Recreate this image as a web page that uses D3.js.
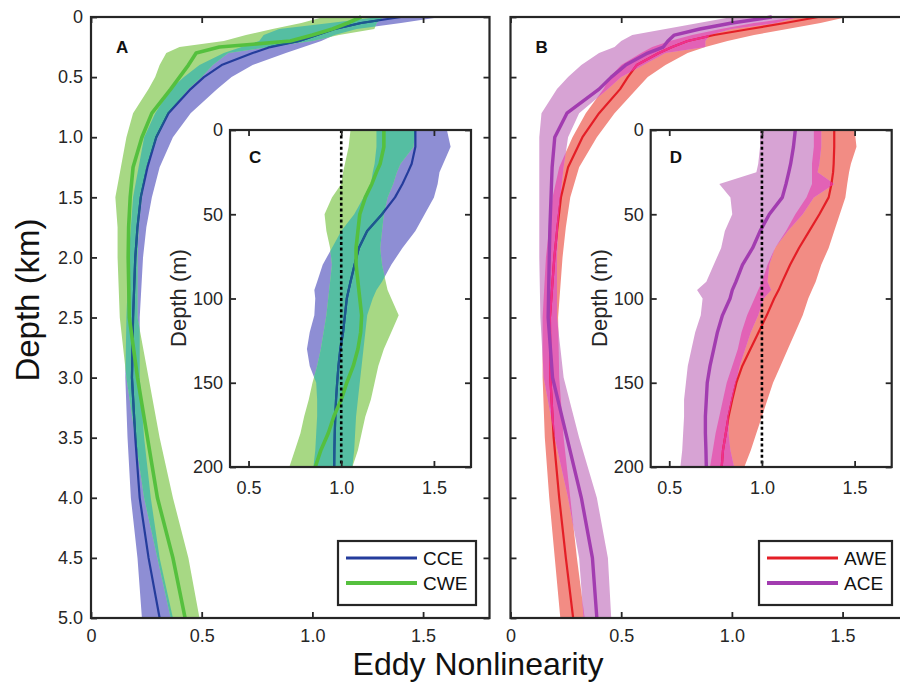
<!DOCTYPE html>
<html>
<head>
<meta charset="utf-8">
<script src="https://cdn.jsdelivr.net/npm/d3@7"></script>
<style>
  body { margin: 0; background: #fff; }
  text { font-family: "Liberation Sans", Arial, Helvetica, sans-serif; }
</style>
</head>
<body>
<div id="chart"></div>
<script>
// ---- data: full-depth profiles (km) ----
const depthKm = [0, 0.05, 0.1, 0.15, 0.2, 0.25, 0.3, 0.4, 0.5, 0.6, 0.8, 1.0, 1.25, 1.5, 1.75, 2.0, 2.5, 3.0, 3.5, 4.0, 4.5, 5.0];

const cceMean = [1.40, 1.22, 1.10, 1.02, 0.94, 0.81, 0.73, 0.59, 0.51, 0.45, 0.35, 0.295, 0.255, 0.225, 0.21, 0.20, 0.19, 0.185, 0.20, 0.22, 0.26, 0.31];
const cceLo   = [1.30, 1.08, 0.85, 0.78, 0.76, 0.68, 0.60, 0.49, 0.42, 0.36, 0.29, 0.24, 0.215, 0.19, 0.18, 0.17, 0.16, 0.155, 0.165, 0.18, 0.21, 0.23];
const cceHi   = [1.58, 1.40, 1.20, 1.10, 1.04, 0.96, 0.88, 0.73, 0.635, 0.57, 0.45, 0.37, 0.31, 0.275, 0.25, 0.235, 0.22, 0.22, 0.24, 0.27, 0.31, 0.37];

const cweMean = [1.22, 1.16, 1.09, 1.00, 0.90, 0.58, 0.475, 0.44, 0.40, 0.36, 0.275, 0.23, 0.19, 0.177, 0.17, 0.168, 0.173, 0.21, 0.255, 0.30, 0.37, 0.425];
const cweLo   = [1.05, 0.95, 0.82, 0.70, 0.60, 0.40, 0.34, 0.31, 0.29, 0.26, 0.19, 0.16, 0.135, 0.11, 0.12, 0.12, 0.13, 0.16, 0.20, 0.24, 0.30, 0.36];
const cweHi   = [1.32, 1.29, 1.28, 1.12, 1.00, 0.80, 0.62, 0.55, 0.50, 0.44, 0.35, 0.30, 0.25, 0.23, 0.215, 0.21, 0.21, 0.26, 0.31, 0.37, 0.44, 0.49];

const aweMean = [1.39, 1.24, 1.08, 0.92, 0.80, 0.73, 0.67, 0.57, 0.53, 0.495, 0.40, 0.325, 0.26, 0.228, 0.212, 0.198, 0.178, 0.18, 0.195, 0.22, 0.25, 0.283];
const aweLo   = [1.30, 1.10, 0.95, 0.82, 0.72, 0.64, 0.59, 0.50, 0.45, 0.42, 0.34, 0.28, 0.22, 0.19, 0.175, 0.16, 0.145, 0.145, 0.155, 0.175, 0.20, 0.225];
const aweHi   = [1.52, 1.40, 1.25, 1.10, 0.98, 0.88, 0.80, 0.70, 0.62, 0.57, 0.47, 0.39, 0.31, 0.27, 0.25, 0.235, 0.215, 0.22, 0.24, 0.27, 0.30, 0.335];

const aceMean = [1.18, 1.00, 0.855, 0.74, 0.711, 0.69, 0.62, 0.52, 0.455, 0.40, 0.255, 0.20, 0.188, 0.183, 0.178, 0.175, 0.17, 0.19, 0.255, 0.32, 0.37, 0.39];
const aceLo   = [1.00, 0.85, 0.70, 0.55, 0.50, 0.47, 0.40, 0.32, 0.26, 0.21, 0.14, 0.13, 0.13, 0.13, 0.13, 0.13, 0.135, 0.15, 0.20, 0.26, 0.31, 0.33];
const aceHi   = [1.30, 1.20, 1.00, 0.90, 0.88, 0.88, 0.70, 0.60, 0.50, 0.44, 0.31, 0.26, 0.24, 0.225, 0.215, 0.21, 0.21, 0.24, 0.31, 0.39, 0.44, 0.455];

// ---- data: upper 200 m (insets C and D) ----
const depthM = [0, 10, 20, 25, 32, 40, 50, 60, 70, 80, 90, 95, 100, 110, 120, 130, 140, 150, 160, 170, 180, 190, 200];

const cceInMean = [1.40, 1.40, 1.38, 1.36, 1.33, 1.29, 1.22, 1.14, 1.095, 1.072, 1.05, 1.04, 1.03, 1.02, 1.01, 0.995, 0.985, 0.978, 0.972, 0.968, 0.965, 0.963, 0.962];
const cceInLo   = [1.19, 1.19, 1.18, 1.17, 1.16, 1.12, 1.07, 1.00, 0.95, 0.90, 0.87, 0.855, 0.86, 0.855, 0.83, 0.815, 0.83, 0.865, 0.87, 0.87, 0.865, 0.86, 0.85];
const cceInHi   = [1.57, 1.59, 1.55, 1.53, 1.52, 1.50, 1.45, 1.40, 1.33, 1.27, 1.22, 1.19, 1.17, 1.14, 1.13, 1.12, 1.11, 1.10, 1.09, 1.08, 1.075, 1.07, 1.06];

const cweInMean = [1.23, 1.23, 1.21, 1.19, 1.165, 1.13, 1.10, 1.09, 1.08, 1.08, 1.09, 1.095, 1.10, 1.11, 1.105, 1.09, 1.065, 1.03, 1.00, 0.96, 0.93, 0.89, 0.86];
const cweInLo   = [1.05, 1.04, 1.02, 1.01, 1.00, 0.95, 0.91, 0.92, 0.94, 0.95, 0.94, 0.935, 0.93, 0.92, 0.905, 0.89, 0.87, 0.845, 0.825, 0.80, 0.78, 0.75, 0.72];
const cweInHi   = [1.40, 1.39, 1.32, 1.30, 1.28, 1.25, 1.23, 1.22, 1.21, 1.22, 1.24, 1.25, 1.27, 1.31, 1.27, 1.23, 1.20, 1.18, 1.16, 1.13, 1.11, 1.09, 1.06];

const aweInMean = [1.39, 1.39, 1.387, 1.384, 1.375, 1.36, 1.31, 1.255, 1.20, 1.152, 1.11, 1.09, 1.066, 1.026, 0.982, 0.938, 0.894, 0.862, 0.84, 0.82, 0.805, 0.79, 0.783];
const aweInLo   = [1.28, 1.28, 1.27, 1.27, 1.27, 1.24, 1.18, 1.13, 1.07, 1.03, 1.00, 0.98, 0.96, 0.92, 0.89, 0.87, 0.84, 0.81, 0.79, 0.77, 0.75, 0.735, 0.72];
const aweInHi   = [1.50, 1.51, 1.48, 1.47, 1.46, 1.45, 1.42, 1.39, 1.36, 1.32, 1.29, 1.27, 1.25, 1.22, 1.18, 1.14, 1.10, 1.06, 1.03, 1.00, 0.97, 0.94, 0.905];

const aceInMean = [1.18, 1.17, 1.155, 1.145, 1.13, 1.11, 1.04, 0.99, 0.95, 0.895, 0.86, 0.84, 0.828, 0.787, 0.76, 0.74, 0.72, 0.705, 0.70, 0.695, 0.695, 0.698, 0.70];
const aceInLo   = [0.99, 0.99, 0.98, 0.97, 0.77, 0.83, 0.84, 0.80, 0.78, 0.74, 0.70, 0.65, 0.68, 0.67, 0.64, 0.62, 0.60, 0.59, 0.58, 0.58, 0.575, 0.57, 0.56];
const aceInHi   = [1.32, 1.32, 1.31, 1.30, 1.39, 1.28, 1.22, 1.14, 1.07, 1.04, 1.03, 1.05, 1.01, 0.98, 0.94, 0.91, 0.88, 0.86, 0.84, 0.82, 0.82, 0.83, 0.85];

// ---- ticks / labels ----
const mainXTicks = [0, 0.5, 1.0, 1.5];
const mainYTicks = [0, 0.5, 1.0, 1.5, 2.0, 2.5, 3.0, 3.5, 4.0, 4.5, 5.0];
const insetXTicks = [0.5, 1.0, 1.5];
const insetYTicks = [0, 50, 100, 150, 200];
const legendA = ["CCE", "CWE"];
const legendB = ["AWE", "ACE"];

const ink = "#262626";
const palA = { band1: "#8e8ed4", band2: "#a7d884", overlap: "#55bea2",
               line1: "#243c9c", line1over: "#1d5a8e", line2: "#55c03e", w1: 2.2, w2: 3.6 };
const palB = { band1: "#f28c84", band2: "#d7a3d4", overlap: "#e262b6",
               line1: "#e41e26", line1over: "#ee2f8e", line2: "#a23cb0", w1: 2.2, w2: 3.4 };

const svg = d3.select("#chart").append("svg")
  .attr("width", 900)
  .attr("height", 686);

function rows(depth, mean, lo, hi) {
  return depth.map((d, i) => ({ d: d, m: mean[i], lo: lo[i], hi: hi[i] }));
}

let clipId = 0;

// two shaded bands + mean lines; overlap of the bands gets its own colour
function drawProfiles(x, y, s1, s2, pal) {
  const id = "ov" + (clipId++);
  const area = d3.area().y(d => y(d.d)).x0(d => x(d.lo)).x1(d => x(d.hi));
  const line = d3.line().y(d => y(d.d)).x(d => x(d.m));
  const g = svg.append("g");
  g.append("clipPath").attr("id", id).append("path").attr("d", area(s2));
  g.append("path").attr("d", area(s1)).attr("fill", pal.band1);
  g.append("path").attr("d", area(s2)).attr("fill", pal.band2);
  g.append("path").attr("d", area(s1)).attr("fill", pal.overlap).attr("clip-path", "url(#" + id + ")");
  g.append("path").attr("d", line(s1)).attr("fill", "none")
    .attr("stroke", pal.line1).attr("stroke-width", pal.w1).attr("stroke-linejoin", "round");
  g.append("path").attr("d", line(s1)).attr("fill", "none").attr("clip-path", "url(#" + id + ")")
    .attr("stroke", pal.line1over).attr("stroke-width", pal.w1).attr("stroke-linejoin", "round");
  g.append("path").attr("d", line(s2)).attr("fill", "none")
    .attr("stroke", pal.line2).attr("stroke-width", pal.w2).attr("stroke-linejoin", "round");
}

// matlab-style box with inward ticks on all four sides
function drawFrame(x, y, xTicks, yTicks, fmtX, fmtY, fs, padX, padY) {
  const [x0, x1] = x.range();
  const [y0, y1] = y.range();
  const t = 6;
  const g = svg.append("g").style("color", ink);

  const axes = [
    g.append("g").attr("transform", "translate(0," + y1 + ")")
      .call(d3.axisBottom(x).tickValues(xTicks).tickSize(-t).tickPadding(padX).tickFormat(fmtX)),
    g.append("g").attr("transform", "translate(0," + y0 + ")")
      .call(d3.axisTop(x).tickValues(xTicks).tickSize(-t).tickFormat("")),
    g.append("g").attr("transform", "translate(" + x0 + ",0)")
      .call(d3.axisLeft(y).tickValues(yTicks).tickSize(-t).tickPadding(padY).tickFormat(fmtY)),
    g.append("g").attr("transform", "translate(" + x1 + ",0)")
      .call(d3.axisRight(y).tickValues(yTicks).tickSize(-t).tickFormat(""))
  ];
  axes.forEach(a => {
    a.select(".domain").remove();
    a.attr("font-size", fs).attr("font-family", null);
    a.selectAll("line").attr("stroke-width", 1.8);
  });

  g.append("rect")
    .attr("x", x0).attr("y", y0)
    .attr("width", x1 - x0).attr("height", y1 - y0)
    .attr("fill", "none").attr("stroke", ink).attr("stroke-width", 2.2);
}

function letter(txt, x, y) {
  svg.append("text").attr("x", x).attr("y", y)
    .attr("font-size", 17).attr("font-weight", "bold").attr("fill", "#111")
    .text(txt);
}

function legend(names, pal, bx, by, bw, bh) {
  const g = svg.append("g");
  g.append("rect").attr("x", bx).attr("y", by).attr("width", bw).attr("height", bh)
    .attr("fill", "#fff").attr("stroke", ink).attr("stroke-width", 2.2);
  const cols = [pal.line1, pal.line2];
  const ws = [pal.w1 + 0.8, pal.w2 + 0.6];
  names.forEach((n, i) => {
    const yy = by + 17 + i * 25;
    g.append("line").attr("x1", bx + 8).attr("x2", bx + 79).attr("y1", yy).attr("y2", yy)
      .attr("stroke", cols[i]).attr("stroke-width", ws[i]);
    g.append("text").attr("x", bx + 85).attr("y", yy + 7)
      .attr("font-size", 19).attr("fill", "#111").text(n);
  });
}

const fmtMain = d => d === 0 ? "0" : d3.format(".1f")(d);

function panel(cfg) {
  const x = d3.scaleLinear().domain([0, 1.8]).range([cfg.left, cfg.left + 398.5]);
  const y = d3.scaleLinear().domain([0, 5]).range([17, 618]);
  drawProfiles(x, y, cfg.s1, cfg.s2, cfg.pal);
  // only the left panel carries depth labels
  drawFrame(x, y, mainXTicks, mainYTicks, fmtMain, cfg.yLabels ? fmtMain : "", 18, 11, 8);
  letter(cfg.letter, cfg.left + 25, 53);

  // inset, upper 200 m
  const xi = d3.scaleLinear().domain([0.4, 1.7]).range([cfg.insetLeft, cfg.insetLeft + 241]);
  const yi = d3.scaleLinear().domain([0, 200]).range([130, 467]);
  svg.append("rect").attr("x", cfg.insetLeft).attr("y", 130).attr("width", 241).attr("height", 337).attr("fill", "#fff");
  drawProfiles(xi, yi, cfg.i1, cfg.i2, cfg.pal);
  svg.append("line")
    .attr("x1", xi(1)).attr("x2", xi(1)).attr("y1", yi(0)).attr("y2", yi(200))
    .attr("stroke", "#000").attr("stroke-width", 2.6).attr("stroke-dasharray", "3,2.6");
  drawFrame(xi, yi, insetXTicks, insetYTicks, d3.format(".1f"), d => d, 18, 14, 7);
  letter(cfg.insetLetter, cfg.insetLeft + 19, 163);
  svg.append("text")
    .attr("transform", "translate(" + (cfg.insetLeft - 44) + ",298) rotate(-90)")
    .attr("text-anchor", "middle").attr("font-size", 22).attr("fill", ink)
    .text("Depth (m)");

  legend(cfg.names, cfg.pal, cfg.legX, 541, cfg.legW, 64);
}

panel({
  left: 91, insetLeft: 230, letter: "A", insetLetter: "C", pal: palA, names: legendA,
  legX: 338, legW: 138, yLabels: true,
  s1: rows(depthKm, cceMean, cceLo, cceHi), s2: rows(depthKm, cweMean, cweLo, cweHi),
  i1: rows(depthM, cceInMean, cceInLo, cceInHi), i2: rows(depthM, cweInMean, cweInLo, cweInHi)
});
panel({
  left: 510.5, insetLeft: 650.7, letter: "B", insetLetter: "D", pal: palB, names: legendB,
  legX: 759, legW: 133, yLabels: false,
  s1: rows(depthKm, aweMean, aweLo, aweHi), s2: rows(depthKm, aceMean, aceLo, aceHi),
  i1: rows(depthM, aweInMean, aweInLo, aweInHi), i2: rows(depthM, aceInMean, aceInLo, aceInHi)
});

// shared axis titles
svg.append("text")
  .attr("transform", "translate(39,300) rotate(-90)")
  .attr("text-anchor", "middle").attr("font-size", 33).attr("fill", "#111")
  .text("Depth (km)");
svg.append("text")
  .attr("x", 478).attr("y", 675)
  .attr("text-anchor", "middle").attr("font-size", 32).attr("fill", "#111")
  .text("Eddy Nonlinearity");
</script>
</body>
</html>
